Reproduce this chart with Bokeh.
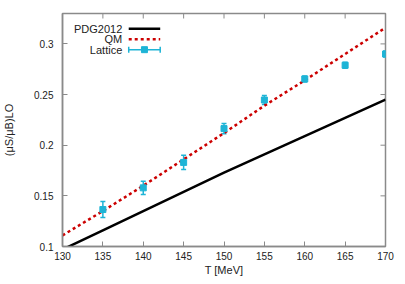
import numpy as np
from bokeh.plotting import figure
from bokeh.models import Range1d, FixedTicker, Label, Whisker, ColumnDataSource, TeeHead
from bokeh.embed import file_html
from bokeh.resources import INLINE
from bokeh.core.properties import value

# ---- data ----
T_curve = [130, 135, 140, 145, 150, 155, 160, 165, 170]
pdg2012 = [0.097, 0.116, 0.135, 0.154, 0.173, 0.191, 0.209, 0.227, 0.245]
qm = [0.111, 0.135, 0.160, 0.186, 0.212, 0.239, 0.264, 0.290, 0.316]

T_lat = [135, 140, 145, 150, 155, 160, 165, 170]
lattice = [0.1365, 0.1579, 0.1830, 0.2164, 0.2446, 0.2654, 0.2789, 0.2900]
lattice_err = [0.0079, 0.0066, 0.0071, 0.0050, 0.0045, 0.0030, 0.0030, 0.0030]

x_ticks = [130, 135, 140, 145, 150, 155, 160, 165, 170]
y_ticks = [0.1, 0.15, 0.2, 0.25, 0.3]
legend_labels = ["PDG2012", "QM", "Lattice"]
y_label = "(\u03bcS/\u03bcB)LO"

# ---- styles ----
FONT = "Liberation Sans"
GREY = "#8a8a8a"
RED = "#cc0000"
CYAN = "#1eb4d6"
TXT = "#222222"
X0, X1, Y0, Y1 = 130, 170, 0.1, 0.33

p = figure(frame_width=323, frame_height=233, output_backend="svg", toolbar_location=None,
           x_range=Range1d(X0, X1), y_range=Range1d(Y0, Y1),
           min_border_left=61, min_border_right=12, min_border_top=13, min_border_bottom=29)
p.grid.visible = False
p.outline_line_color = GREY
p.outline_line_width = 1.5
p.background_fill_color = "white"
p.border_fill_color = "white"

for ax in (p.xaxis[0], p.yaxis[0]):
    ax.axis_line_color = GREY
    ax.axis_line_width = 1.5
    ax.major_tick_in = 5
    ax.major_tick_out = 0
    ax.minor_tick_in = 0
    ax.minor_tick_out = 0
    ax.major_tick_line_color = GREY
    ax.major_label_text_font = FONT
    ax.major_label_text_font_size = "10px"
    ax.major_label_text_color = TXT
    ax.axis_label_text_font = FONT
    ax.axis_label_text_font_size = "11px"
    ax.axis_label_text_font_style = "normal"
    ax.axis_label_text_color = TXT

p.xaxis[0].ticker = FixedTicker(ticks=x_ticks)
p.yaxis[0].ticker = FixedTicker(ticks=y_ticks)
p.xaxis[0].axis_label = "T [MeV]"
p.xaxis[0].axis_label_standoff = 1
p.xaxis[0].major_label_standoff = 5
p.yaxis[0].axis_label = y_label
p.yaxis[0].major_label_standoff = 9
p.yaxis[0].axis_label_standoff = 16
p.yaxis[0].major_label_overrides = {0.1: "0.1", 0.15: "0.15", 0.2: "0.2", 0.25: "0.25", 0.3: "0.3"}

# mirror ticks on top and right (inward), tick length ~5 px
tx = 5 * (X1 - X0) / 323
ty = 5 * (Y1 - Y0) / 233
p.segment(x0=x_ticks, y0=[Y1] * len(x_ticks), x1=x_ticks, y1=[Y1 - ty] * len(x_ticks),
          line_color=GREY, line_width=1)
p.segment(x0=[X1] * len(y_ticks), y0=y_ticks, x1=[X1 - tx] * len(y_ticks), y1=y_ticks,
          line_color=GREY, line_width=1)

# ---- curves ----
p.line(T_curve, pdg2012, line_color="black", line_width=2.5)
p.line(T_curve, qm, line_color=RED, line_width=2.5, line_dash="3 3")

lo = [v - e for v, e in zip(lattice, lattice_err)]
hi = [v + e for v, e in zip(lattice, lattice_err)]
src = ColumnDataSource(dict(x=T_lat, y=lattice, lo=lo, hi=hi))
p.add_layout(Whisker(source=src, base="x", upper="hi", lower="lo", line_color=CYAN, line_width=1.5,
                     upper_head=TeeHead(size=5, line_color=CYAN, line_width=1.5),
                     lower_head=TeeHead(size=5, line_color=CYAN, line_width=1.5)))
p.scatter("x", "y", source=src, marker="square", size=6, fill_color=CYAN, line_color=CYAN)

# ---- legend (manual, gnuplot style: text then sample) ----
LEG_TXT_X = 137.4
LEG_X0, LEG_X1 = 138.2, 142.1
LEG_Y = [0.315, 0.3046, 0.2943]
for lbl, ly in zip(legend_labels, LEG_Y):
    p.add_layout(Label(x=LEG_TXT_X, y=ly, text=lbl, text_align="right", text_baseline="middle",
                       text_font=FONT, text_font_size="11px", text_color=TXT))
p.segment(x0=[LEG_X0], y0=[LEG_Y[0]], x1=[LEG_X1], y1=[LEG_Y[0]], line_color="black", line_width=2.5)
p.segment(x0=[LEG_X0], y0=[LEG_Y[1]], x1=[LEG_X1], y1=[LEG_Y[1]], line_color=RED, line_width=2.5,
          line_dash="3 3")
p.segment(x0=[LEG_X0], y0=[LEG_Y[2]], x1=[LEG_X1], y1=[LEG_Y[2]], line_color=CYAN, line_width=1.5)
p.segment(x0=[LEG_X0, LEG_X1], y0=[LEG_Y[2] - 0.003] * 2, x1=[LEG_X0, LEG_X1], y1=[LEG_Y[2] + 0.003] * 2,
          line_color=CYAN, line_width=1.5)
p.scatter(x=[(LEG_X0 + LEG_X1) / 2], y=[LEG_Y[2]], marker="square", size=6, fill_color=CYAN, line_color=CYAN)

open("out.html", "w").write(file_html(p, INLINE))
